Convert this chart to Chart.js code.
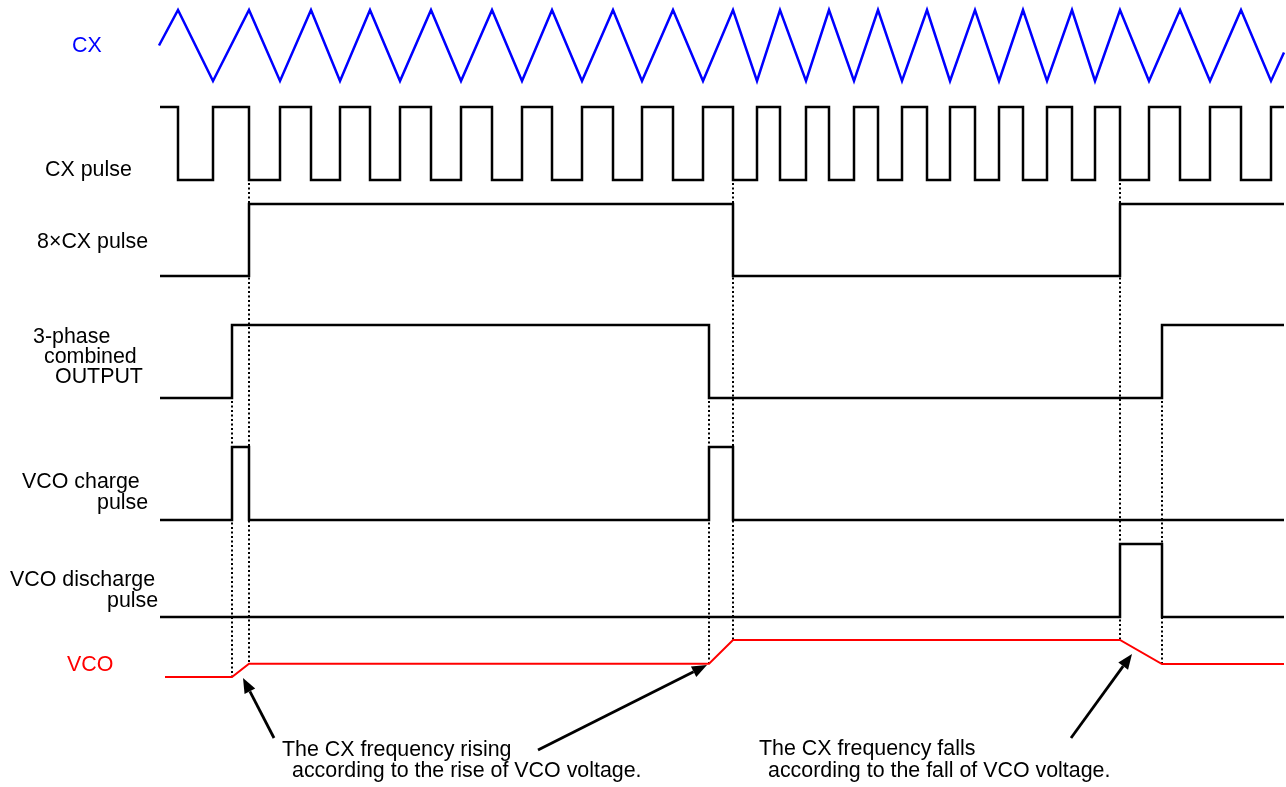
<!DOCTYPE html>
<html>
<head>
<meta charset="utf-8">
<script src="https://cdn.jsdelivr.net/npm/chart.js@4.4.0/dist/chart.umd.min.js"></script>
<style>
  html, body { margin: 0; padding: 0; background: #fff; }
  #wrap { width: 1286px; height: 787px; }
</style>
</head>
<body>
<div id="wrap"><canvas id="timing" width="1286" height="787"></canvas></div>
<script>
// time runs left to right, same units as the drawing width
const tStart = 160;
const tEnd = 1284;

// CX triangle: turning points (time) and level (0 bottom .. 1 top)
const cxTimes = [159, 178, 213, 249, 280, 311, 340, 370, 400, 431, 461, 492, 522, 552, 582, 613, 642, 673, 703, 733,
                 757, 780, 806, 829, 854, 878, 902, 927, 950, 975, 999, 1023, 1047, 1072, 1095, 1120,
                 1149, 1180, 1210, 1241, 1271, 1284];
const cxLevels = [0.5, 1, 0, 1, 0, 1, 0, 1, 0, 1, 0, 1, 0, 1, 0, 1, 0, 1, 0, 1,
                  0, 1, 0, 1, 0, 1, 0, 1, 0, 1, 0, 1, 0, 1, 0, 1,
                  0, 1, 0, 1, 0, 0.4];

// digital signals: edge times, all start low
const pulse8Edges = [249, 733, 1120];
const threePhaseEdges = [232, 709, 1162];
const chargeEdges = [232, 249, 709, 733];
const dischargeEdges = [1120, 1162];

// VCO voltage (arbitrary volts)
const vcoTimes = [165, 232, 249, 709, 733, 1120, 1162, 1284];
const vcoVolts = [2.0, 2.0, 2.36, 2.36, 3.0, 3.0, 2.35, 2.35];

// dotted guide lines: time and the signal they drop from
const guideTimes = [232, 249, 709, 733, 1120, 1162];
const guideFrom = ['threePhase', 'cxPulse', 'threePhase', 'cxPulse', 'cxPulse', 'threePhase'];

const H = 787;
// lane axis so that lo maps to pixel lowPx and hi to highPx
function laneAxis(lowPx, highPx, lo = 0, hi = 1) {
    const perUnit = (lowPx - highPx) / (hi - lo);
    const min = lo - (H - lowPx) / perUnit;
    return { type: 'linear', axis: 'y', display: false, min: min, max: min + H / perUnit };
}

function steps(edges, init) {
    const pts = [{ x: tStart, y: init }];
    let v = init;
    edges.forEach(e => {
        pts.push({ x: e, y: v });
        v = 1 - v;
        pts.push({ x: e, y: v });
    });
    pts.push({ x: tEnd, y: v });
    return pts;
}

const cxPts = cxTimes.map((t, i) => ({ x: t, y: cxLevels[i] }));
const cxPulsePts = [];
for (let i = 0; i < cxTimes.length - 1; i++) {
    const lvl = cxLevels[i + 1] > cxLevels[i] ? 1 : 0;
    cxPulsePts.push({ x: i === 0 ? tStart : cxTimes[i], y: lvl });
    cxPulsePts.push({ x: cxTimes[i + 1], y: lvl });
}
const vcoPts = vcoTimes.map((t, i) => ({ x: t, y: vcoVolts[i] }));

const FONT = '21.4px "Liberation Sans", Arial, sans-serif';

const laneLabels = [
    { lines: [['CX', 72, 52]], color: '#0000ff' },
    { lines: [['CX pulse', 45, 176]], color: '#000' },
    { lines: [['8×CX pulse', 37, 248]], color: '#000' },
    { lines: [['3-phase', 33, 343], ['combined', 44, 363], ['OUTPUT', 55, 383]], color: '#000' },
    { lines: [['VCO charge', 22, 488], ['pulse', 97, 509]], color: '#000' },
    { lines: [['VCO discharge', 10, 586], ['pulse', 107, 607]], color: '#000' },
    { lines: [['VCO', 67, 671]], color: '#ff0000' },
    { lines: [['The CX frequency rising', 282, 756], ['according to the rise of VCO voltage.', 292, 777]], color: '#000' },
    { lines: [['The CX frequency falls', 759, 755], ['according to the fall of VCO voltage.', 768, 777]], color: '#000' }
];

const arrows = [
    { from: [274, 738], to: [243, 678] },
    { from: [538, 750], to: [707, 665] },
    { from: [1071, 738], to: [1132, 654] }
];

const overlay = {
    id: 'overlay',
    beforeDatasetsDraw(chart) {
        const { ctx, scales } = chart;
        ctx.save();
        ctx.strokeStyle = '#000';
        ctx.lineWidth = 2;
        ctx.setLineDash([2, 2.5]);
        guideTimes.forEach((t, i) => {
            const x = Math.round(scales.x.getPixelForValue(t));
            const y0 = scales[guideFrom[i]].getPixelForValue(0) + 3;
            const vi = vcoTimes.indexOf(t);
            const y1 = scales.vco.getPixelForValue(vcoVolts[vi]);
            ctx.beginPath();
            ctx.moveTo(x, y0);
            ctx.lineTo(x, y1);
            ctx.stroke();
        });
        ctx.restore();
    },
    afterDatasetsDraw(chart) {
        const { ctx, scales } = chart;
        const px = v => scales.x.getPixelForValue(v);
        const py = v => scales.page.getPixelForValue(v);
        ctx.save();
        ctx.font = FONT;
        ctx.textAlign = 'left';
        ctx.textBaseline = 'alphabetic';
        laneLabels.forEach(l => {
            ctx.fillStyle = l.color;
            l.lines.forEach(([s, x, y]) => ctx.fillText(s, px(x), py(y)));
        });

        ctx.strokeStyle = '#000';
        ctx.fillStyle = '#000';
        ctx.lineWidth = 2.8;
        arrows.forEach(a => {
            const x0 = px(a.from[0]), y0 = py(a.from[1]);
            const x1 = px(a.to[0]), y1 = py(a.to[1]);
            const ang = Math.atan2(y1 - y0, x1 - x0);
            const len = 15, w = 6;
            const bx = x1 - len * Math.cos(ang), by = y1 - len * Math.sin(ang);
            ctx.beginPath();
            ctx.moveTo(x0, y0);
            ctx.lineTo(bx, by);
            ctx.stroke();
            ctx.beginPath();
            ctx.moveTo(x1, y1);
            ctx.lineTo(bx + w * Math.sin(ang), by - w * Math.cos(ang));
            ctx.lineTo(bx - w * Math.sin(ang), by + w * Math.cos(ang));
            ctx.closePath();
            ctx.fill();
        });
        ctx.restore();
    }
};

function sig(label, data, axis, color, width) {
    return {
        label: label, data: data, yAxisID: axis,
        borderColor: color, borderWidth: width,
        pointRadius: 0, tension: 0, fill: false,
        borderJoinStyle: 'miter', borderCapStyle: 'butt'
    };
}

new Chart(document.getElementById('timing'), {
    type: 'line',
    data: {
        datasets: [
            sig('CX', cxPts, 'cx', '#0000ff', 2.5),
            sig('CX pulse', cxPulsePts, 'cxPulse', '#000', 2.5),
            sig('8×CX pulse', steps(pulse8Edges, 0), 'pulse8', '#000', 2.5),
            sig('3-phase combined OUTPUT', steps(threePhaseEdges, 0), 'threePhase', '#000', 2.5),
            sig('VCO charge pulse', steps(chargeEdges, 0), 'charge', '#000', 2.5),
            sig('VCO discharge pulse', steps(dischargeEdges, 0), 'discharge', '#000', 2.5),
            sig('VCO', vcoPts, 'vco', '#ff0000', 2)
        ]
    },
    options: {
        responsive: false,
        animation: false,
        events: [],
        layout: { padding: 0 },
        plugins: { legend: { display: false }, tooltip: { enabled: false } },
        scales: {
            x: { type: 'linear', axis: 'x', display: false, min: 0, max: 1286 },
            page: { type: 'linear', axis: 'y', display: false, min: 0, max: H, reverse: true },
            cx: laneAxis(81, 10),
            cxPulse: laneAxis(180, 107),
            pulse8: laneAxis(276, 204),
            threePhase: laneAxis(398, 325),
            charge: laneAxis(520, 447),
            discharge: laneAxis(617, 544),
            vco: laneAxis(677, 640, 2.0, 3.0)
        }
    },
    plugins: [overlay]
});
</script>
</body>
</html>
